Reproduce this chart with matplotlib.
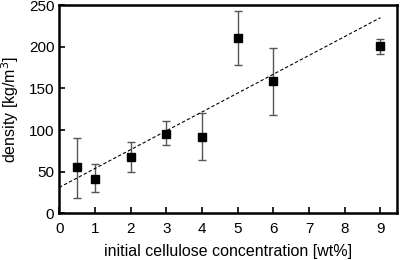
import matplotlib
matplotlib.use('Agg')
import matplotlib.pyplot as plt

# data
conc = [0.5, 1, 2, 3, 4, 5, 6, 9]
density = [55, 41, 68, 95, 92, 210, 159, 201]
err_low = [18.5, 26, 50, 82, 64, 178, 118, 191]
err_high = [90, 59, 85, 111, 120, 243, 199, 209]
fit_x = [0, 9]
fit_y = [31, 235]

plt.rcParams['font.family'] = ['Liberation Sans', 'DejaVu Sans']

fig, ax = plt.subplots(figsize=(4, 2.6), dpi=100)
fig.subplots_adjust(left=0.148, right=0.993, top=0.98, bottom=0.18)

yerr = [[d - lo for d, lo in zip(density, err_low)],
        [hi - d for d, hi in zip(density, err_high)]]
ax.errorbar(conc, density, yerr=yerr, fmt='none', ecolor='#555555',
            elinewidth=1, capsize=3, capthick=1)
ax.plot(conc, density, 's', color='black', markersize=6)
ax.plot(fit_x, fit_y, '--', color='black', linewidth=0.8, dashes=(3, 2))

ax.set_xlim(0, 9.47)
ax.set_ylim(0, 250)
ax.set_xticks(range(10))
ax.set_yticks([0, 50, 100, 150, 200, 250])
ax.tick_params(direction='in', labelsize=11, length=4, width=1.2,
               top=False, right=False)
ax.tick_params(axis='x', pad=6)
for s in ax.spines.values():
    s.set_linewidth(1.8)

ax.set_xlabel('initial cellulose concentration [wt%]', fontsize=11.5, labelpad=6)
ax.set_ylabel('density [kg/m$^3$]', fontsize=11.5, labelpad=6)

fig.savefig('out.png')
